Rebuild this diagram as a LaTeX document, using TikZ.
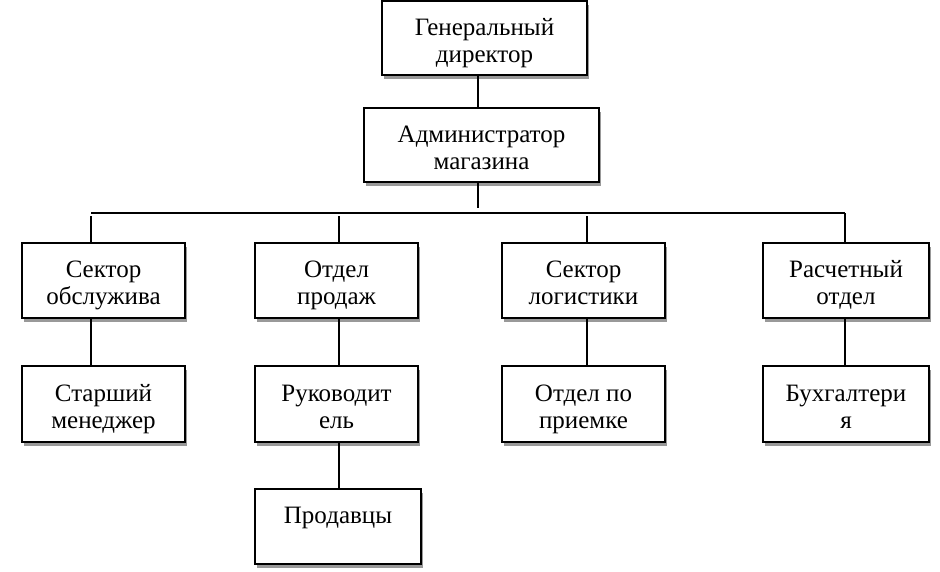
\documentclass[tikz,border=0pt]{standalone}
\usepackage{fontspec}
\setmainfont{Liberation Serif}
\usetikzlibrary{shadows}
\newcommand{\twol}[2]{\raisebox{-5.5pt}[\height][\depth]{\begin{tabular}{@{}c@{}}#1\\#2\end{tabular}}}
\begin{document}
\begin{tikzpicture}[x=1pt,y=-1pt,
  box/.style={draw=black, line width=2.6pt, fill=white, rectangle, inner sep=0pt,
    align=center, font=\fontsize{25}{27}\selectfont,
    drop shadow={shadow xshift=2pt, shadow yshift=-3.5pt, fill=black!40, opacity=1}},
  conn/.style={line width=2pt}]
\useasboundingbox (0,0) rectangle (940,571);
\node[box, minimum width=205pt, minimum height=74pt] (g) at (484.5,38) {\twol{Генеральный}{директор}};
\node[box, minimum width=235pt, minimum height=74pt] (a) at (481.5,145) {\twol{Администратор}{магазина}};
\node[box, minimum width=163pt, minimum height=75pt] (b1) at (103.5,280.5) {\twol{Сектор}{обслужива}};
\node[box, minimum width=163pt, minimum height=75pt] (b2) at (336.5,280.5) {\twol{Отдел}{продаж}};
\node[box, minimum width=163pt, minimum height=75pt] (b3) at (583.5,280.5) {\twol{Сектор}{логистики}};
\node[box, minimum width=166pt, minimum height=75pt] (b4) at (846,280.5) {\twol{Расчетный}{отдел}};
\node[box, minimum width=163pt, minimum height=76pt] (c1) at (103.5,404) {\twol{Старший}{менеджер}};
\node[box, minimum width=163pt, minimum height=76pt] (c2) at (336.5,404) {\twol{Руководит}{ель}};
\node[box, minimum width=163pt, minimum height=76pt] (c3) at (583.5,404) {\twol{Отдел по}{приемке}};
\node[box, minimum width=166pt, minimum height=76pt] (c4) at (846,404) {\twol{Бухгалтери}{я}};
\node[box, minimum width=166pt, minimum height=75pt] (p) at (338,526.5) {\twol{Продавцы}{\strut}};
\coordinate (ga) at (478,0);
\coordinate (k1) at (91,213);
\coordinate (k2) at (339,213);
\coordinate (k3) at (587,213);
\coordinate (k4) at (845,213);
\coordinate (km) at (478,213);
\draw[conn] (g.south -| ga) -- (a.north -| ga);
\draw[conn] (a.south -| ga) -- ([yshift=5pt]km);
\draw[conn] (k1) -- (k4);
\draw[conn] ([yshift=-3pt]k1) -- (b1.north -| k1);
\draw[conn] ([yshift=-3pt]k2) -- (b2.north -| k2);
\draw[conn] ([yshift=-3pt]k3) -- (b3.north -| k3);
\draw[conn] (k4) -- (b4.north -| k4);
\draw[conn] (b1.south -| k1) -- (c1.north -| k1);
\draw[conn] (b2.south -| k2) -- (c2.north -| k2);
\draw[conn] (b3.south -| k3) -- (c3.north -| k3);
\draw[conn] (b4.south -| k4) -- (c4.north -| k4);
\draw[conn] (c2.south -| k2) -- (p.north -| k2);
\end{tikzpicture}
\end{document}
